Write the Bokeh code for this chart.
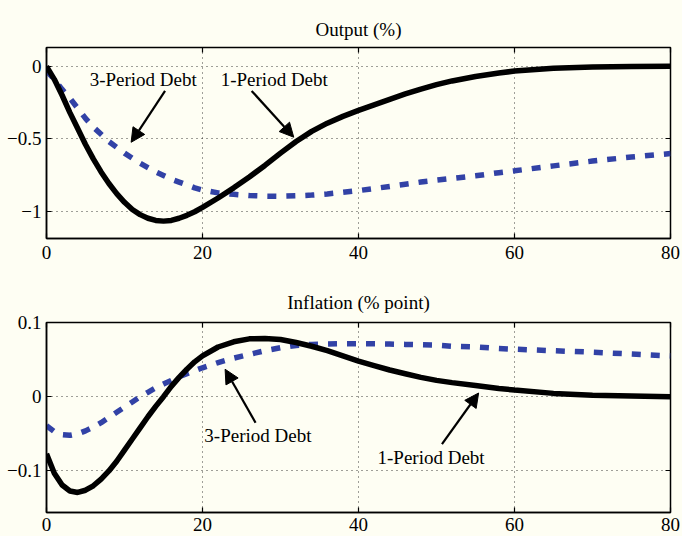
from bokeh.plotting import figure
from bokeh.layouts import column
from bokeh.models import (FixedTicker, LinearAxis, CustomJSTickFormatter, Arrow,
                          NormalHead, Label, Range1d)
from bokeh.embed import file_html
from bokeh.resources import INLINE

# ---------------- data ----------------
periods = [0, 1, 2, 3, 4, 5, 6, 7, 8, 9, 10, 11, 12, 13, 14, 15, 16, 17, 18, 19, 20,
           22, 24, 26, 28, 30, 32, 34, 36, 38, 40, 42, 44, 46, 48, 50, 52, 55, 58, 60,
           65, 70, 75, 80]

output_1period = [0.0, -0.09, -0.2, -0.32, -0.43, -0.54, -0.64, -0.73, -0.81, -0.88, -0.94,
                  -0.99, -1.025, -1.05, -1.065, -1.07, -1.065, -1.05, -1.03, -1.005, -0.975,
                  -0.91, -0.84, -0.765, -0.685, -0.6, -0.52, -0.45, -0.393, -0.346, -0.305,
                  -0.266, -0.228, -0.191, -0.157, -0.127, -0.101, -0.07, -0.046, -0.033,
                  -0.013, -0.004, -0.001, 0.0]

output_3period = [-0.03, -0.09, -0.16, -0.22, -0.29, -0.36, -0.42, -0.47, -0.52, -0.56, -0.6,
                  -0.635, -0.67, -0.7, -0.73, -0.755, -0.78, -0.8, -0.82, -0.84, -0.855,
                  -0.875, -0.885, -0.893, -0.897, -0.898, -0.895, -0.89, -0.882, -0.871, -0.859,
                  -0.845, -0.83, -0.815, -0.8, -0.787, -0.775, -0.757, -0.735, -0.722,
                  -0.688, -0.655, -0.627, -0.603]

inflation_1period = [-0.077, -0.103, -0.119, -0.127, -0.129, -0.126, -0.12, -0.111, -0.1, -0.087,
                     -0.072, -0.057, -0.042, -0.027, -0.013, 0.0, 0.014, 0.026, 0.037, 0.047,
                     0.055, 0.067, 0.074, 0.078, 0.0785, 0.077, 0.073, 0.068, 0.062, 0.055,
                     0.048, 0.042, 0.036, 0.031, 0.026, 0.022, 0.019, 0.015, 0.011, 0.009,
                     0.0045, 0.002, 0.001, 0.0]

inflation_3period = [-0.039, -0.047, -0.051, -0.052, -0.05, -0.046, -0.041, -0.035, -0.028, -0.021,
                     -0.014, -0.007, 0.0, 0.006, 0.012, 0.017, 0.022, 0.027, 0.031, 0.035,
                     0.039, 0.046, 0.052, 0.057, 0.062, 0.066, 0.069, 0.0705, 0.071, 0.0715,
                     0.0715, 0.0713, 0.071, 0.0705, 0.07, 0.0695, 0.068, 0.067, 0.065, 0.064,
                     0.062, 0.06, 0.0575, 0.055]

x_ticks = [0, 20, 40, 60, 80]
output_ticks = [-1, -0.5, 0]
inflation_ticks = [-0.1, 0, 0.1]
label_1 = "1-Period Debt"
label_3 = "3-Period Debt"

# ---------------- style ----------------
BG = "#fefef3"
FONT = "Liberation Serif"
FS = "19px"
BLUE = "#3242a6"
minus_fmt = CustomJSTickFormatter(code="return tick.toString().replace('-', '\u2212');")
blank_fmt = CustomJSTickFormatter(code="return '';")


def make_fig(title, yr, yticks, height, top_border, bottom_border, title_standoff, x_standoff):
    p = figure(width=682, height=height, x_range=Range1d(0, 80), y_range=Range1d(*yr),
               output_backend="svg", toolbar_location=None,
               min_border_left=46, min_border_right=12,
               min_border_top=top_border, min_border_bottom=bottom_border,
               background_fill_color=BG, border_fill_color=BG)
    p.title.text = title
    p.title.align = "center"
    p.title.text_font = FONT
    p.title.text_font_size = FS
    p.title.text_font_style = "normal"
    p.title.text_color = "black"
    p.title.standoff = title_standoff
    p.outline_line_color = "black"
    p.outline_line_width = 1.5
    p.outline_line_alpha = 1.0

    p.xaxis.ticker = FixedTicker(ticks=x_ticks)
    p.yaxis.ticker = FixedTicker(ticks=yticks)
    p.yaxis.formatter = minus_fmt
    for ax in (p.xaxis[0], p.yaxis[0]):
        ax.major_tick_in = 5
        ax.major_tick_out = 0
        ax.minor_tick_line_color = None
        ax.axis_line_color = "black"
        ax.axis_line_width = 1.5
        ax.major_tick_line_width = 1.2
        ax.major_label_text_font = FONT
        ax.major_label_text_font_size = FS
        ax.major_label_text_color = "black"
        ax.major_label_standoff = 5
    p.xaxis.major_label_standoff = x_standoff

    # box ticks on the right and top edges (MATLAB "box on" style), no labels
    for loc, tk in (("right", yticks), ("above", x_ticks)):
        ax = LinearAxis(ticker=FixedTicker(ticks=tk), formatter=blank_fmt,
                        major_tick_in=5, major_tick_out=0,
                        minor_tick_line_color=None, major_label_standoff=0,
                        axis_line_color=None, major_tick_line_width=1.2)
        p.add_layout(ax, loc)

    p.grid.grid_line_color = "black"
    p.grid.grid_line_alpha = 0.75
    p.grid.grid_line_width = 1
    p.grid.grid_line_dash = "1 4"
    return p


def arrow(p, xs, ys, xe, ye):
    p.add_layout(Arrow(end=NormalHead(size=14, fill_color="black", line_color="black"),
                       x_start=xs, y_start=ys, x_end=xe, y_end=ye,
                       line_color="black", line_width=2.2))


def label(p, x, y, text):
    p.add_layout(Label(x=x, y=y, text=text, text_align="center", text_baseline="middle",
                       text_font=FONT, text_font_size=FS, text_color="black"))


# ---------------- top: Output ----------------
p1 = make_fig("Output (%)", (-1.19, 0.13), output_ticks, 270, 47, 32, 16, 7)
p1.line(periods, output_3period, line_color=BLUE, line_width=5.5, line_dash="9 10")
p1.line(periods, output_1period, line_color="black", line_width=5.5)
label(p1, 12.4, -0.09, label_3)
label(p1, 29.2, -0.09, label_1)
arrow(p1, 15.2, -0.17, 10.85, -0.525)
arrow(p1, 26.3, -0.17, 31.7, -0.49)

# ---------------- bottom: Inflation ----------------
p2 = make_fig("Inflation (% point)", (-0.156, 0.1), inflation_ticks, 266, 52, 24, 19, 5)
p2.line(periods, inflation_3period, line_color=BLUE, line_width=5.5, line_dash="9 10")
p2.line(periods, inflation_1period, line_color="black", line_width=5.5)
label(p2, 27.1, -0.0525, label_3)
label(p2, 49.3, -0.0817, label_1)
arrow(p2, 26.8, -0.035, 22.9, 0.037)
arrow(p2, 50.7, -0.064, 55.4, 0.005)

layout = column(p1, p2, spacing=0, background=BG)
open("out.html", "w").write(file_html(layout, INLINE))
